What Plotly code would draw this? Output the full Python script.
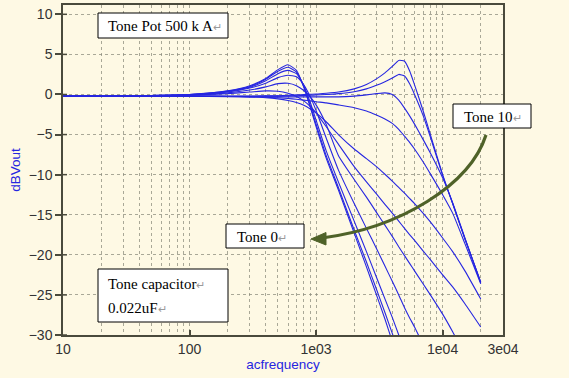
import plotly.graph_objects as go

# ---------------- data ----------------
freq = [10, 20, 50, 100, 200, 300, 400, 500, 600, 700, 800, 900, 1000, 1200,
        1500, 2000, 2500, 3000, 3500, 4000, 4500, 5000, 5500, 6000, 7000, 8000,
        10000, 12000, 15000, 20000]

N = None
tone0 = [-0.2, -0.2, -0.12, 0.0, 0.45, 1.1, 2.0, 3.1, 3.7, 3.0, 0.9, -1.6, -4.0, -7.9,
         -11.9, -17.3, -21.5, -25.0, -28.0, -30.8, -33.0, -35.0, N, N, N, N, N, N, N, N]
tone1 = [-0.2, -0.2, -0.12, 0.0, 0.42, 1.0, 1.9, 2.9, 3.4, 2.8, 1.0, -1.4, -3.7, -7.6,
         -11.6, -16.9, -20.9, -24.3, -27.2, -29.8, -32.0, -34.0, N, N, N, N, N, N, N, N]
tone2 = [-0.2, -0.2, -0.13, -0.02, 0.38, 0.9, 1.7, 2.6, 3.0, 2.6, 1.1, -1.0, -3.2, -7.0,
         -10.9, -15.8, -19.6, -22.8, -25.5, -27.8, -30.0, -31.9, -33.5, -35.0, N, N, N, N, N, N]
tone3 = [-0.2, -0.2, -0.15, -0.05, 0.3, 0.8, 1.4, 2.1, 2.4, 2.2, 1.2, -0.3, -2.0, -5.4,
         -9.4, -13.6, -16.7, -19.2, -21.4, -23.3, -25.0, -26.6, -27.9, -29.0, -31.2, -33.0, N, N, N, N]
tone4 = [-0.2, -0.2, -0.15, -0.07, 0.2, 0.55, 0.95, 1.35, 1.4, 1.1, 0.5, -0.3, -1.3, -3.7,
         -7.6, -10.6, -12.8, -14.7, -16.3, -17.7, -19.0, -20.1, -21.1, -22.0, -23.6, -25.0,
         -27.4, -29.6, -32.5, N]
tone5 = [-0.2, -0.2, -0.17, -0.1, 0.1, 0.3, 0.45, 0.4, 0.15, -0.25, -0.8, -1.5, -2.3, -4.0,
         -6.2, -9.0, -10.9, -12.4, -13.7, -14.8, -15.8, -16.7, -17.5, -18.2, -19.5, -20.6,
         -22.5, -24.0, -26.1, -29.0]
tone6 = [-0.2, -0.2, -0.2, -0.22, -0.25, -0.3, -0.4, -0.55, -0.75, -1.0, -1.35, -1.8, -2.3, -3.4,
         -5.0, -6.8, -8.0, -9.0, -9.95, -10.8, -11.6, -12.3, -13.0, -13.6, -14.8, -15.9,
         -17.9, -19.6, -22.0, -25.5]
tone7 = [-0.2, -0.2, -0.2, -0.22, -0.28, -0.3, -0.35, -0.4, -0.5, -0.6, -0.7, -0.8, -0.9, -1.05,
         -1.3, -1.65, -2.05, -2.55, -3.05, -3.6, -4.35, -5.2, -6.0, -6.8, -8.4, -9.9,
         -12.5, -14.8, -18.6, -23.6]
tone8 = [-0.2, -0.2, -0.2, -0.2, -0.25, -0.27, -0.28, -0.3, -0.3, -0.3, -0.3, -0.3, -0.3, -0.3,
         -0.3, -0.2, -0.05, 0.1, 0.2, 0.0, -0.7, -1.7, -2.7, -3.7, -5.6, -7.3,
         -10.4, -13.5, -17.9, -23.5]
tone9 = [-0.2, -0.2, -0.2, -0.2, -0.22, -0.22, -0.2, -0.2, -0.18, -0.15, -0.12, -0.1, -0.05, 0.0,
         0.1, 0.35, 0.7, 1.15, 1.6, 2.05, 2.5, 2.3, 1.3, 0.0, -2.6, -5.3,
         -10.1, -13.6, -18.0, -23.4]
tone10 = [-0.2, -0.2, -0.2, -0.2, -0.2, -0.2, -0.18, -0.15, -0.1, -0.05, 0.0, 0.03, 0.05, 0.15,
          0.3, 0.7, 1.25, 1.95, 2.7, 3.5, 4.25, 4.15, 2.9, 1.2, -2.0, -5.0,
          -10.0, -13.6, -18.0, -23.4]

curves = [tone0, tone1, tone2, tone3, tone4, tone5, tone6, tone7, tone8, tone9, tone10]

x_tickvals = [10, 100, 1000, 10000, 30000]
x_ticktext = ["10", "100", "1e03", "1e04", "3e04"]
x_minor = [m * d for d in (10, 100, 1000) for m in range(2, 10)] + [20000]
y_tickvals = [-30, -25, -20, -15, -10, -5, 0, 5, 10]

# ---------------- layout helpers (pixel -> paper) ----------------
W, H = 569, 378
PL, PR, PT, PB = 63, 503, 5, 335


def px(x):
    return (x - PL) / (PR - PL)


def py(y):
    return (PB - y) / (PB - PT)


BG = "#FEF9E4"
GRID = "rgba(140,140,125,0.75)"
AXC = "#4a4a3c"
BLUE = "#2626E0"
OLIVE = "#4F6228"

fig = go.Figure()
for c in curves:
    fig.add_trace(go.Scatter(x=freq, y=c, mode="lines",
                             line=dict(color=BLUE, width=1.1, shape="spline", smoothing=0.5),
                             hoverinfo="skip", showlegend=False, connectgaps=False))

shapes = []
annotations = []

# inner half of the y ticks (reference ticks cross the axis line)
for v in y_tickvals:
    shapes.append(dict(type="line", xref="paper", yref="y", x0=0, x1=px(PL + 4), y0=v, y1=v,
                       line=dict(color=AXC, width=1.5), layer="above"))


def box(x0, y0, x1, y1):
    shapes.append(dict(type="rect", xref="paper", yref="paper", x0=px(x0), x1=px(x1), y0=py(y1), y1=py(y0),
                       line=dict(color="black", width=1), fillcolor="white", layer="above"))


def label(x, y, text):
    annotations.append(dict(xref="paper", yref="paper", x=px(x), y=py(y), xanchor="left", yanchor="middle",
                            text=text, showarrow=False,
                            font=dict(family="Liberation Serif, Times New Roman, serif", size=15, color="black")))


RET = '<span style="color:#9a9a9a;font-size:11px">↵</span>'

box(98, 13, 228, 38)
label(106, 26, "Tone Pot 500 k A" + RET)
box(453, 104, 531, 128)
label(462, 117, "Tone 10" + RET)
box(226, 224, 304, 248)
label(235, 237, "Tone 0" + RET)
box(98, 269, 228, 322)
label(106, 284, "Tone capacitor" + RET)
label(106, 308, "0.022uF" + RET)

# curved arrow (Tone 10 -> Tone 0)
p0, c1, c2, p3 = (486, 135), (470, 185), (400, 228), (322, 238)
path = "M {} {} C {} {}, {} {}, {} {}".format(px(p0[0]), py(p0[1]), px(c1[0]), py(c1[1]),
                                             px(c2[0]), py(c2[1]), px(p3[0]), py(p3[1]))
shapes.append(dict(type="path", xref="paper", yref="paper", path=path,
                   line=dict(color=OLIVE, width=3.2), layer="above"))
tri = "M {} {} L {} {} L {} {} Z".format(px(311), py(239), px(326), py(232.5), px(326), py(245))
shapes.append(dict(type="path", xref="paper", yref="paper", path=tri,
                   line=dict(color=OLIVE, width=1), fillcolor=OLIVE, layer="above"))

fig.update_layout(
    width=W, height=H,
    margin=dict(l=PL, r=W - PR, t=PT, b=H - PB, autoexpand=False),
    paper_bgcolor=BG, plot_bgcolor=BG,
    shapes=shapes, annotations=annotations,
    font=dict(family="Liberation Sans, Arial, sans-serif", size=14, color="#333333"),
)
fig.update_xaxes(type="log", range=[1, 4.4771], tickvals=x_tickvals, ticktext=x_ticktext,
                 ticks="inside", ticklen=5, tickcolor=AXC, tickwidth=1.5,
                 showline=True, mirror=True, linecolor=AXC, linewidth=1.5,
                 showgrid=True, gridcolor=GRID, griddash="dot", gridwidth=1,
                 minor=dict(tickvals=x_minor, showgrid=True, gridcolor=GRID, griddash="dot", gridwidth=1, ticks=""),
                 title=dict(text="acfrequency", font=dict(color=BLUE, size=13.5), standoff=1),
                 automargin=False, zeroline=False)
fig.update_yaxes(range=[-30, 11.16], tickvals=y_tickvals,
                 ticks="outside", ticklen=6, tickcolor=AXC, tickwidth=1.5,
                 showline=True, mirror=True, linecolor=AXC, linewidth=1.5,
                 showgrid=True, gridcolor=GRID, griddash="dot", gridwidth=1,
                 title=dict(text="dBVout", font=dict(color=BLUE, size=13.5), standoff=5),
                 automargin=False, zeroline=False)

fig.write_html("out.html", config={"displayModeBar": False},
               post_script="document.body.style.margin='0px';document.body.style.padding='0px';")
